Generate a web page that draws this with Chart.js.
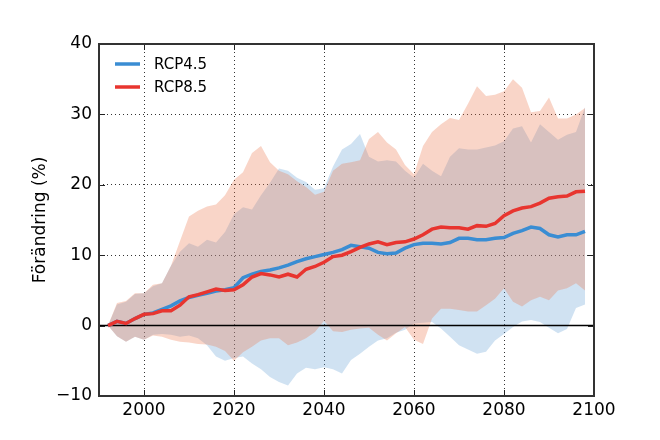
<!DOCTYPE html>
<html>
<head>
<meta charset="utf-8">
<script src="https://cdn.jsdelivr.net/npm/chart.js@4/dist/chart.umd.min.js"></script>
<style>
  html, body { margin: 0; padding: 0; background: #fff; }
  #wrap { width: 660px; height: 440px; }
</style>
</head>
<body>
<div id="wrap"><canvas id="chart" width="660" height="440"></canvas></div>
<script>
// values, every second year
const years = [1992, 1994, 1996, 1998, 2000, 2002, 2004, 2006, 2008, 2010,
  2012, 2014, 2016, 2018, 2020, 2022, 2024, 2026, 2028, 2030,
  2032, 2034, 2036, 2038, 2040, 2042, 2044, 2046, 2048, 2050,
  2052, 2054, 2056, 2058, 2060, 2062, 2064, 2066, 2068, 2070,
  2072, 2074, 2076, 2078, 2080, 2082, 2084, 2086, 2088, 2090,
  2092, 2094, 2096, 2098];

const mean45 = [0, 0.6, 0.3, 1.0, 1.6, 1.8, 2.3, 2.8, 3.5, 4.0,
  4.3, 4.6, 4.9, 5.1, 5.4, 6.8, 7.3, 7.7, 7.9, 8.2,
  8.6, 9.1, 9.5, 9.8, 10.1, 10.4, 10.8, 11.4, 11.2, 11.0,
  10.4, 10.2, 10.3, 11.0, 11.5, 11.7, 11.7, 11.6, 11.8, 12.4,
  12.4, 12.2, 12.2, 12.4, 12.5, 13.1, 13.5, 14.0, 13.8, 12.9,
  12.6, 12.9, 12.9, 13.4];
const low45 = [0, -1.5, -2.3, -1.6, -2.0, -1.3, -1.2, -1.3, -1.6, -1.4,
  -1.8, -2.8, -4.4, -5.0, -4.6, -4.4, -5.4, -6.2, -7.3, -8.0,
  -8.5, -6.8, -6.0, -6.2, -5.9, -6.2, -6.8, -4.9, -4.0, -3.0,
  -2.1, -1.8, -1.0, -0.6, 0.3, 0.4, 0.5, -0.4, -1.6, -2.8,
  -3.4, -4.0, -3.7, -2.1, -1.2, -0.2, 0.6, 0.8, 0.5, -0.3,
  -1.1, -0.5, 2.5, 3.0];
const up45 = [0, 3.0, 3.4, 4.5, 4.6, 5.6, 6.0, 8.5, 10.5, 11.7,
  11.2, 12.2, 11.8, 13.3, 15.8, 16.8, 16.5, 18.5, 20.3, 22.3,
  22.0, 21.0, 20.4, 19.3, 19.5, 22.6, 25.0, 25.8, 27.2, 24.0,
  23.3, 23.5, 23.3, 22.0, 21.0, 23.0, 22.0, 21.2, 24.0, 25.2,
  25.0, 25.0, 25.3, 25.6, 26.2, 28.0, 28.3, 26.0, 28.6, 27.5,
  26.4, 27.1, 27.5, 31.0];

const mean85 = [0, 0.6, 0.3, 1.0, 1.6, 1.7, 2.1, 2.1, 2.9, 4.1,
  4.4, 4.8, 5.2, 5.0, 5.1, 5.8, 6.9, 7.4, 7.2, 6.9,
  7.3, 6.9, 8.0, 8.4, 9.0, 9.8, 10.0, 10.5, 11.1, 11.6,
  11.9, 11.5, 11.8, 11.9, 12.3, 12.9, 13.7, 14.0, 13.9, 13.9,
  13.7, 14.2, 14.1, 14.5, 15.6, 16.3, 16.7, 16.9, 17.4, 18.1,
  18.3, 18.4, 19.0, 19.1];
const low85 = [0, -1.5, -2.3, -1.6, -2.0, -1.4, -1.6, -2.0, -2.3, -2.4,
  -2.6, -2.7, -3.0, -3.6, -5.0, -3.8, -3.0, -2.1, -1.8, -1.8,
  -2.8, -2.4, -1.8, -0.9, 0.7, -0.8, -0.9, -0.6, -0.4, -0.3,
  -1.3, -2.1, -1.1, -0.2, -2.0, -2.6, 1.0, 2.4, 2.4, 2.2,
  2.0, 2.0, 2.9, 3.8, 5.3, 3.4, 2.7, 3.6, 4.1, 3.6,
  5.0, 5.3, 6.0, 5.0];
const up85 = [0, 3.2, 3.5, 4.6, 4.6, 5.8, 6.0, 8.5, 12.0, 15.5,
  16.3, 16.9, 17.2, 18.5, 20.7, 21.8, 24.5, 25.5, 23.2, 22.0,
  21.5, 20.5, 19.7, 18.6, 19.0, 22.0, 23.0, 23.2, 23.5, 26.5,
  27.5, 26.0, 25.0, 22.8, 21.5, 25.5, 27.5, 28.6, 29.5, 29.2,
  31.5, 34.0, 32.6, 32.8, 33.3, 35.0, 33.8, 30.3, 30.5, 32.4,
  29.4, 29.4, 30.0, 30.9];

const xTicks = [2000, 2020, 2040, 2060, 2080, 2100];
const yTicks = [-10, 0, 10, 20, 30, 40];
const zeroYears = [1990, 2100];
const zeroValues = [0, 0];

const BLUE = "#3a8dd3";
const RED = "#e8352f";
const BLUE_FILL = "rgba(98,158,212,0.3)";
const RED_FILL = "rgba(235,115,72,0.3)";
const FONT = "'DejaVu Sans', sans-serif";

function points(xs, ys) {
  let out = [];
  for (let i = 0; i < xs.length; i++) {
    out.push({ x: xs[i], y: ys[i] });
  }
  return out;
}

function setTicks(values) {
  return function (scale) {
    let list = [];
    for (let i = 0; i < values.length; i++) list.push({ value: values[i] });
    scale.ticks = list;
  };
}

// frame round the plot plus inward tick marks on all four sides
const framePlugin = {
  id: "frame",
  afterDatasetsDraw: function (chart) {
    let ctx = chart.ctx;
    let a = chart.chartArea;
    let xs = chart.scales.x;
    let ys = chart.scales.y;
    ctx.save();
    ctx.strokeStyle = "#222";
    ctx.lineWidth = 1;
    ctx.beginPath();
    for (let i = 0; i < xs.ticks.length; i++) {
      let px = Math.round(xs.getPixelForValue(xs.ticks[i].value)) + 0.5;
      ctx.moveTo(px, a.bottom); ctx.lineTo(px, a.bottom - 6);
      ctx.moveTo(px, a.top); ctx.lineTo(px, a.top + 6);
    }
    for (let i = 0; i < ys.ticks.length; i++) {
      let py = Math.round(ys.getPixelForValue(ys.ticks[i].value)) + 0.5;
      ctx.moveTo(a.left, py); ctx.lineTo(a.left + 6, py);
      ctx.moveTo(a.right, py); ctx.lineTo(a.right - 6, py);
    }
    ctx.stroke();
    ctx.strokeStyle = "#333";
    ctx.lineWidth = 2;
    ctx.strokeRect(a.left, a.top, a.right - a.left, a.bottom - a.top);

    // legend in the upper left corner, like matplotlib's loc=2
    let items = [["RCP4.5", BLUE], ["RCP8.5", RED]];
    ctx.font = "15px " + FONT;
    ctx.textBaseline = "middle";
    ctx.fillStyle = "#000";
    for (let i = 0; i < items.length; i++) {
      let y = a.top + 20 + i * 23;
      ctx.strokeStyle = items[i][1];
      ctx.lineWidth = 3.5;
      ctx.beginPath();
      ctx.moveTo(a.left + 16, y);
      ctx.lineTo(a.left + 41, y);
      ctx.stroke();
      ctx.fillText(items[i][0], a.left + 55, y + 1);
    }
    ctx.restore();
  }
};

function gridColor(c) {
  let s = c.scale;
  if (c.tick.value === s.min || c.tick.value === s.max || c.tick.value === 0) return "rgba(0,0,0,0)";
  return "#333";
}

new Chart(document.getElementById("chart"), {
  type: "line",
  data: {
    datasets: [
      { label: "RCP8.5", data: points(years, mean85), borderColor: RED, backgroundColor: RED,
        borderWidth: 3.5, pointRadius: 0, fill: false, order: 0 },
      { label: "RCP4.5", data: points(years, mean45), borderColor: BLUE, backgroundColor: BLUE,
        borderWidth: 3.5, pointRadius: 0, fill: false, order: 1 },
      { label: "zero", data: points(zeroYears, zeroValues), borderColor: "#000",
        borderWidth: 1.5, pointRadius: 0, fill: false, order: 2 },
      { label: "low85", data: points(years, low85), borderWidth: 0, borderColor: "rgba(0,0,0,0)",
        pointRadius: 0, fill: false, order: 4 },
      { label: "up85", data: points(years, up85), borderWidth: 0, borderColor: "rgba(0,0,0,0)",
        backgroundColor: RED_FILL, pointRadius: 0, fill: 3, order: 3 },
      { label: "low45", data: points(years, low45), borderWidth: 0, borderColor: "rgba(0,0,0,0)",
        pointRadius: 0, fill: false, order: 6 },
      { label: "up45", data: points(years, up45), borderWidth: 0, borderColor: "rgba(0,0,0,0)",
        backgroundColor: BLUE_FILL, pointRadius: 0, fill: 5, order: 5 }
    ]
  },
  options: {
    responsive: false,
    animation: false,
    events: [],
    layout: { padding: { left: 0, right: 66, top: 44, bottom: 0 } },
    scales: {
      x: {
        type: "linear",
        min: 1990,
        max: 2100,
        afterBuildTicks: setTicks(xTicks),
        afterFit: function (scale) { scale.height = 44; },
        ticks: {
          padding: 4,
          color: "#000",
          font: { family: FONT, size: 17 },
          callback: function (v) { return String(v); }
        },
        grid: { color: gridColor, lineWidth: 1, drawTicks: false },
        border: { display: false, dash: [1, 3] }
      },
      y: {
        min: -10,
        max: 40,
        afterBuildTicks: setTicks(yTicks),
        afterFit: function (scale) { scale.width = 99; },
        ticks: {
          padding: 7,
          color: "#000",
          font: { family: FONT, size: 17 },
          callback: function (v) { return v < 0 ? "\u2212" + Math.abs(v) : String(v); }
        },
        grid: { color: gridColor, lineWidth: 1, drawTicks: false },
        border: { display: false, dash: [1, 3] },
        title: {
          display: true,
          text: "Förändring (%)",
          color: "#000",
          font: { family: FONT, size: 17 },
          padding: { top: 30, bottom: 0 }
        }
      }
    },
    plugins: {
      tooltip: { enabled: false },
      legend: { display: false }
    }
  },
  plugins: [framePlugin]
});
</script>
</body>
</html>
